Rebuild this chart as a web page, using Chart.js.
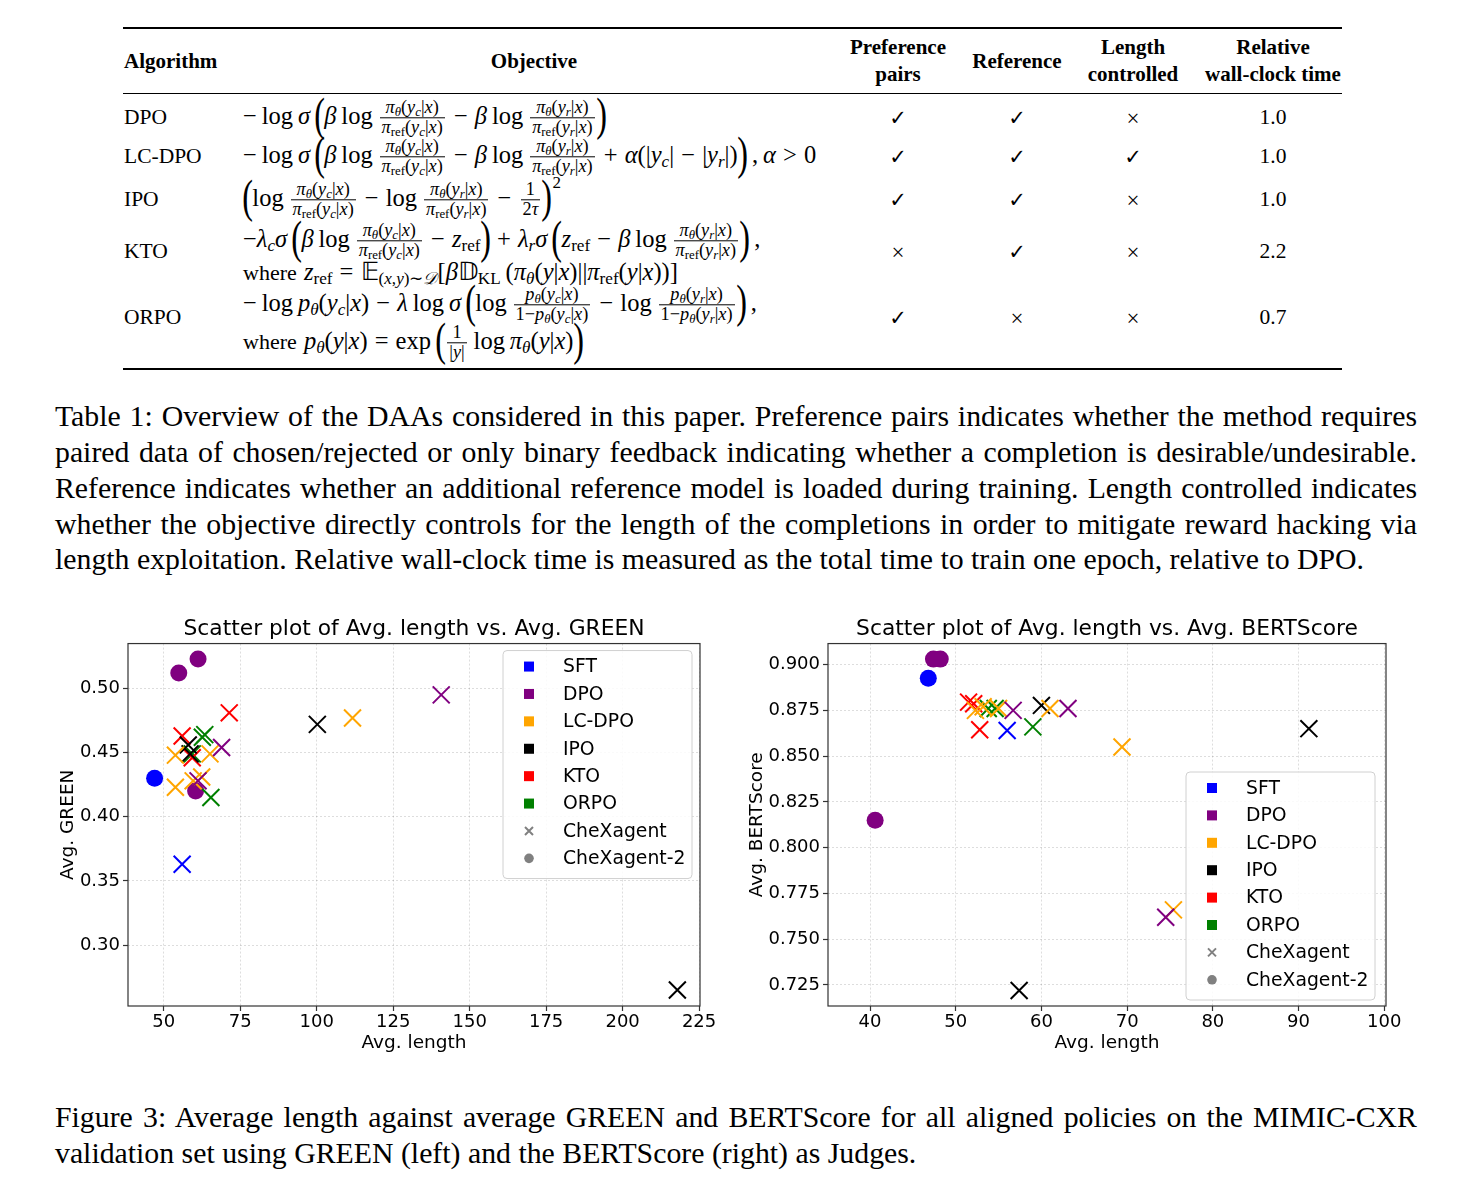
<!DOCTYPE html>
<html><head><meta charset="utf-8">
<script src="https://cdn.jsdelivr.net/npm/chart.js@4.4.1/dist/chart.umd.min.js"></script>
<style>
html,body{margin:0;padding:0;background:#fff;}
body{width:1472px;height:1202px;position:relative;overflow:hidden;font-family:'Liberation Serif','Times New Roman',serif;color:#000;}
.abs{position:absolute;white-space:nowrap;}
.c{transform:translate(-50%,-50%);text-align:center;}
.l{transform:translateY(-50%);}
.hd{font-weight:bold;font-size:21px;line-height:27px;}
.tx{font-size:21.5px;line-height:1;}
.rule{position:absolute;left:123px;width:1219px;background:#000;}
.cap{position:absolute;left:55px;width:1362px;font-size:29.8px;line-height:36px;white-space:nowrap;}
.j{text-align:justify;text-align-last:justify;}
.m{font-size:24.5px;line-height:1;word-spacing:1px;}
.w{font-size:22px;}
.fr{display:inline-block;vertical-align:middle;text-align:center;font-size:18.3px;line-height:1.05;margin:0 2px;word-spacing:0;}
.fr>span{display:block;padding:0 2px;}
.fr>.nu{border-bottom:1px solid #000;}
.bp{display:inline-block;font-size:46px;line-height:20px;vertical-align:middle;transform:scaleX(0.7);margin:0 -3px;position:relative;top:-3px;}
sub{font-size:0.7em;vertical-align:-0.25em;line-height:0;}
.sq{display:inline-block;font-size:17px;position:relative;top:-17px;margin-left:1px;}
.chk{font-family:'DejaVu Sans';font-size:21px;}
.crs{font-size:23px;}
canvas{position:absolute;}
</style></head>
<body>
<div class="rule" style="top:27px;height:2px"></div>
<div class="rule" style="top:93px;height:1.3px"></div>
<div class="rule" style="top:368px;height:2px"></div>
<div id="table"></div>

<div class="cap j" style="top:398px">Table 1: Overview of the DAAs considered in this paper. Preference pairs indicates whether the method requires</div>
<div class="cap j" style="top:434px">paired data of chosen/rejected or only binary feedback indicating whether a completion is desirable/undesirable.</div>
<div class="cap j" style="top:470px">Reference indicates whether an additional reference model is loaded during training. Length controlled indicates</div>
<div class="cap j" style="top:506px">whether the objective directly controls for the length of the completions in order to mitigate reward hacking via</div>
<div class="cap" style="top:541px">length exploitation. Relative wall-clock time is measured as the total time to train one epoch, relative to DPO.</div>

<canvas id="cGreen" width="690" height="450" style="left:40px;top:610px;width:690px;height:450px"></canvas>
<canvas id="cBert" width="700" height="450" style="left:740px;top:610px;width:700px;height:450px"></canvas>

<div class="cap j" style="top:1099px">Figure 3: Average length against average GREEN and BERTScore for all aligned policies on the MIMIC-CXR</div>
<div class="cap" style="top:1135px">validation set using GREEN (left) and the BERTScore (right) as Judges.</div>

<script>
// ---------------- data ----------------
const algorithms = ['SFT','DPO','LC-DPO','IPO','KTO','ORPO'];
const modelNames = ['CheXagent','CheXagent-2'];
const algoColors = ['#0000ff','#800080','#ffa500','#000000','#ff0000','#008000'];

// Avg. length vs Avg. GREEN  ([length, GREEN] per algorithm)
const greenCheXagent = [
  [[56.0,0.363]],
  [[140.7,0.495],[68.9,0.454],[61.2,0.428]],
  [[111.7,0.477],[53.8,0.448],[65.1,0.449],[53.8,0.423],[59.6,0.428],[62.4,0.431]],
  [[100.2,0.472],[58.0,0.456],[58.6,0.449],[217.9,0.265]],
  [[71.4,0.481],[56.0,0.463],[59.3,0.446]],
  [[63.4,0.464],[62.6,0.462],[59.3,0.449],[65.4,0.415]]
];
const greenCheXagent2 = [
  [[47.0,0.430]],
  [[54.9,0.512],[61.2,0.523],[60.4,0.420]],
  [],[],[],[]
];
// Avg. length vs Avg. BERTScore
const bertCheXagent = [
  [[56.0,0.864]],
  [[56.7,0.875],[63.1,0.876],[74.5,0.762]],
  [[52.3,0.875],[53.2,0.877],[55.0,0.876],[61.0,0.876],[69.4,0.855],[75.4,0.766]],
  [[60.0,0.8777],[91.2,0.865],[57.4,0.722]],
  [[51.5,0.8795],[52.1,0.8786],[52.8,0.8644]],
  [[53.8,0.876],[54.6,0.876],[59.0,0.866]]
];
const bertCheXagent2 = [
  [[46.8,0.8925]],
  [[47.4,0.903],[48.2,0.903],[40.6,0.815]],
  [],[],[],[]
];
const greenXTicks = [50,75,100,125,150,175,200,225];
const greenYTicks = [0.30,0.35,0.40,0.45,0.50];
const bertXTicks = [40,50,60,70,80,90,100];
const bertYTicks = [0.725,0.750,0.775,0.800,0.825,0.850,0.875,0.900];

// ---------------- table ----------------
(function(){
  const t = document.getElementById('table');
  const put = (html, x, y, cls) => {
    const d = document.createElement('div');
    d.className = 'abs ' + cls;
    d.style.left = x + 'px'; d.style.top = y + 'px';
    d.innerHTML = html; t.appendChild(d);
  };
  put('Algorithm',124,61,'l hd');
  put('Objective',534,61,'c hd');
  put('Preference<br>pairs',898,61,'c hd');
  put('Reference',1017,61,'c hd');
  put('Length<br>controlled',1133,61,'c hd');
  put('Relative<br>wall-clock time',1273,61,'c hd');

  const rows = [
    ['DPO',118,'✓','✓','×','1.0'],
    ['LC-DPO',157,'✓','✓','✓','1.0'],
    ['IPO',200,'✓','✓','×','1.0'],
    ['KTO',252,'×','✓','×','2.2'],
    ['ORPO',318,'✓','×','×','0.7']
  ];
  const cx = [898,1017,1133];
  rows.forEach(r=>{
    put(r[0],124,r[1],'l tx');
    for(let k=0;k<3;k++){
      const s = r[2+k];
      put(s, cx[k], r[1], 'c ' + (s==='✓' ? 'chk' : 'tx crs'));
    }
    put(r[5],1273,r[1],'c tx');
  });

  const pt='<i>π</i><sub><i>θ</i></sub>', pr='<i>π</i><sub>ref</sub>';
  const yc='<i>y</i><sub><i>c</i></sub>', yr='<i>y</i><sub><i>r</i></sub>';
  const cd=y=>`(${y}|<i>x</i>)`;
  const fr=(n,d)=>`<span class="fr"><span class="nu">${n}</span><span>${d}</span></span>`;
  const L='<span class="bp">(</span>', R='<span class="bp">)</span>';
  const sp='&thinsp;';
  const rc=fr(pt+cd(yc), pr+cd(yc)), rr=fr(pt+cd(yr), pr+cd(yr));
  const pth='<i>p</i><sub><i>θ</i></sub>';
  const zr='<i>z</i><sub>ref</sub>';
  const f = [
    [118, `−${sp}log${sp}<i>σ</i>${sp}${L}<i>β</i>${sp}log${sp}${rc} − <i>β</i>${sp}log${sp}${rr}${R}`],
    [157, `−${sp}log${sp}<i>σ</i>${sp}${L}<i>β</i>${sp}log${sp}${rc} − <i>β</i>${sp}log${sp}${rr} + <i>α</i>(|${yc}| − |${yr}|)${R}${sp},${sp}<i>α</i> &gt; 0`],
    [200, `${L}log${sp}${rc} − log${sp}${rr} − ${fr('1','2<i>τ</i>')}${R}<span class="sq">2</span>`],
    [241, `−<i>λ</i><sub><i>c</i></sub><i>σ</i>${sp}${L}<i>β</i>${sp}log${sp}${rc} − ${zr}${R} + <i>λ</i><sub><i>r</i></sub><i>σ</i>${sp}${L}${zr} − <i>β</i>${sp}log${sp}${rr}${R}${sp},`],
    [272, `<span class="w">where</span> ${zr} = 𝔼<sub>(<i>x</i>,<i>y</i>)∼<i>𝒟</i></sub>[<i>β</i>𝔻<sub>KL</sub>${sp}(${pt}(<i>y</i>|<i>x</i>)||${pr}(<i>y</i>|<i>x</i>))]`],
    [305, `−${sp}log${sp}${pth}(${yc}|<i>x</i>) − <i>λ</i>${sp}log${sp}<i>σ</i>${sp}${L}log${sp}${fr(pth+cd(yc),'1−'+pth+cd(yc))} − log${sp}${fr(pth+cd(yr),'1−'+pth+cd(yr))}${R}${sp},`],
    [343, `<span class="w">where</span> ${pth}(<i>y</i>|<i>x</i>) = exp${sp}${L}${fr('1','|<i>y</i>|')}${sp}log${sp}${pt}(<i>y</i>|<i>x</i>)${R}`]
  ];
  f.forEach(([y,h])=>put(h,243,y,'l m'));
})();

// ---------------- charts ----------------
function buildDatasets(cross, circle){
  const ds = [];
  algorithms.forEach((a,i)=>{
    if(cross[i].length) ds.push({
      label: a + ' (' + modelNames[0] + ')',
      data: cross[i].map(p=>({x:p[0], y:p[1]})),
      pointStyle:'crossRot', pointRadius:12, pointHoverRadius:12,
      borderWidth:2, borderColor:algoColors[i], backgroundColor:algoColors[i]
    });
  });
  algorithms.forEach((a,i)=>{
    if(circle[i].length) ds.push({
      label: a + ' (' + modelNames[1] + ')',
      data: circle[i].map(p=>({x:p[0], y:p[1]})),
      pointStyle:'circle', pointRadius:8.5, pointHoverRadius:8.5,
      borderWidth:0, borderColor:algoColors[i], backgroundColor:algoColors[i]
    });
  });
  return ds;
}

function makeScale(min, max, ticks, digits, title, titlePad, isX){
  return {
    type:'linear', min:min, max:max,
    afterBuildTicks: s => { s.ticks = ticks.map(v=>({value:v})); },
    afterFit: s => { if(isX) s.height = 54; else s.width = 88; },
    ticks: {
      font:{family:'DejaVu Sans', size:18}, color:'#000',
      padding: isX ? 1 : 3, autoSkip:false, maxRotation:0,
      callback: v => digits ? Number(v).toFixed(digits) : String(v)
    },
    grid: {color:'rgba(0,0,0,0.17)', lineWidth:0.8, tickColor:'#333', tickLength:5, tickWidth:1.2},
    border: {display:false, dash:[2,2]},
    title: {display:true, text:title, font:{family:'DejaVu Sans', size:18.5}, color:'#000', padding:titlePad}
  };
}

const framePlugin = {
  id:'frame',
  afterDatasetsDraw(chart){
    const {ctx, chartArea:a} = chart;
    ctx.save();
    ctx.strokeStyle = '#333'; ctx.lineWidth = 1.2;
    ctx.strokeRect(a.left, a.top, a.right - a.left, a.bottom - a.top);
    ctx.restore();
  }
};

const boxLegend = {
  id:'boxLegend',
  afterDraw(chart, args, o){
    const {ctx, chartArea:a} = chart;
    const w = 189, h = 228;
    const left = a.right - o.right - w;
    const top = (o.top !== undefined) ? a.top + o.top : a.bottom - o.bottom - h;
    ctx.save();
    ctx.beginPath();
    if (ctx.roundRect) ctx.roundRect(left, top, w, h, 4); else ctx.rect(left, top, w, h);
    ctx.fillStyle = 'rgba(255,255,255,0.85)'; ctx.fill();
    ctx.strokeStyle = '#d0d0d0'; ctx.lineWidth = 1; ctx.stroke();
    const labels = algorithms.concat(modelNames);
    ctx.font = '18.8px "DejaVu Sans"'; ctx.textBaseline = 'middle'; ctx.textAlign = 'left';
    labels.forEach((lab, i)=>{
      const y = top + 16 + i*27.4;
      const mx = left + 26;
      if (i < algorithms.length){
        ctx.fillStyle = algoColors[i];
        ctx.fillRect(mx - 5, y - 5, 10, 10);
      } else if (lab === modelNames[0]){
        ctx.strokeStyle = 'gray'; ctx.lineWidth = 2;
        ctx.beginPath();
        ctx.moveTo(mx-4, y-4); ctx.lineTo(mx+4, y+4);
        ctx.moveTo(mx+4, y-4); ctx.lineTo(mx-4, y+4);
        ctx.stroke();
      } else {
        ctx.fillStyle = 'gray';
        ctx.beginPath(); ctx.arc(mx, y, 4.8, 0, Math.PI*2); ctx.fill();
      }
      ctx.fillStyle = '#000';
      ctx.fillText(lab, left + 60, y + 1);
    });
    ctx.restore();
  }
};

function makeChart(id, title, cross, circle, xr, yr, xt, yt, yd, ylab, yPad, rightPad, legendPos){
  return new Chart(document.getElementById(id), {
    type:'scatter',
    data:{ datasets: buildDatasets(cross, circle) },
    options:{
      responsive:false, animation:false, devicePixelRatio:1,
      layout:{ padding:{left:0, right:rightPad, top:0, bottom:0} },
      events:[],
      scales:{
        x: makeScale(xr[0], xr[1], xt, 0, 'Avg. length', {top:0,bottom:6}, true),
        y: makeScale(yr[0], yr[1], yt, yd, ylab, {top:yPad,bottom:0}, false)
      },
      plugins:{
        legend:{display:false}, tooltip:{enabled:false},
        title:{display:true, text:title, fullSize:false, color:'#000',
               font:{family:'DejaVu Sans', size:21.8, weight:'normal'}, padding:{top:6,bottom:1.4}},
        boxLegend: legendPos
      }
    },
    plugins:[framePlugin, boxLegend]
  });
}

makeChart('cGreen','Scatter plot of Avg. length vs. Avg. GREEN', greenCheXagent, greenCheXagent2,
  [38.3,225.3],[0.2525,0.535], greenXTicks, greenYTicks, 2, 'Avg. GREEN', 17, 30, {right:8, top:7});
makeChart('cBert','Scatter plot of Avg. length vs. Avg. BERTScore', bertCheXagent, bertCheXagent2,
  [35.1,100.2],[0.7135,0.9115], bertXTicks, bertYTicks, 3, 'Avg. BERTScore', 6, 54, {right:11, bottom:6});
</script>
</body></html>
